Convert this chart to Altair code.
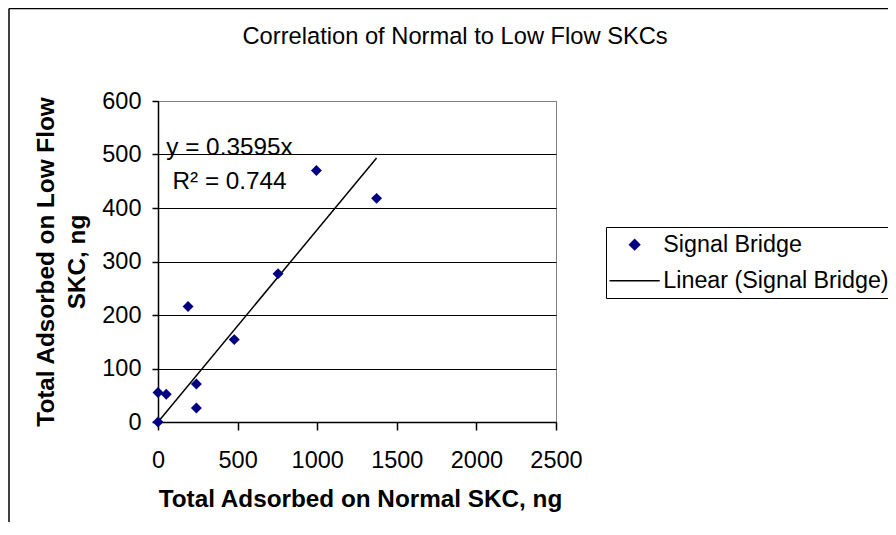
import altair as alt
import pandas as pd

# ---- data ----
x_normal = [0, 0, 52, 189, 241, 241, 479, 754, 995, 1373]
y_low = [0, 55, 52, 216, 71, 26, 154, 277, 470, 418]
series_names = ["Signal Bridge", "Linear (Signal Bridge)"]
slope = 0.3595
r_squared = 0.744
x_ticks = [0, 500, 1000, 1500, 2000, 2500]
y_ticks = [0, 100, 200, 300, 400, 500, 600]
eq_labels = [f"y = {slope}x", f"R² = {r_squared}"]
eq_x = [52, 91]
eq_y = [500, 436]

FONT = "Liberation Sans"

# legend glyph for the trend line: a thin horizontal bar (custom symbol path)
LINE_GLYPH = "M-4.1,-0.12L4.1,-0.12L4.1,0.12L-4.1,0.12Z"

pts = pd.DataFrame({"x": x_normal, "y": y_low, "series": series_names[0]})
xmax = max(x_normal)
trend = pd.DataFrame({"x": [0, xmax], "y": [0, slope * xmax]})
eq = pd.DataFrame({"x": eq_x, "y": eq_y, "label": eq_labels})

xscale = alt.Scale(domain=[0, 2500], nice=False, zero=True)
yscale = alt.Scale(domain=[0, 600], nice=False, zero=True)

x_axis = alt.Axis(
    values=x_ticks, format="d", grid=False, tickSize=8, labelPadding=18, titlePadding=16,
    title="Total Adsorbed on Normal SKC, ng", titleX=202,
)
y_axis = alt.Axis(
    values=y_ticks, format="d", grid=True, tickSize=6, labelPadding=11, titlePadding=12,
    title=["Total Adsorbed on Low Flow", "SKC, ng"], titleLineHeight=31,
    gridColor={"condition": {"test": "datum.value === 600", "value": "#808080"}, "value": "#000000"},
)

# outer chart-area border (left and top edges are the only ones inside the picture)
one = pd.DataFrame({"a": [0]})
frame_left = alt.Chart(one).mark_rule(color="black", strokeWidth=1.5).encode(
    x=alt.value(-149), y=alt.value(-92.5), y2=alt.value(430)
)
frame_top = alt.Chart(one).mark_rule(color="black", strokeWidth=1.5).encode(
    x=alt.value(-149), x2=alt.value(745), y=alt.value(-92.5)
)

line = alt.Chart(trend).mark_line(color="black", strokeWidth=1.5).encode(
    x=alt.X("x:Q", scale=xscale, axis=x_axis),
    y=alt.Y("y:Q", scale=yscale, axis=y_axis),
)

legend = alt.Legend(
    title=None, orient="none", legendX=448, legendY=126,
    strokeColor="black", fillColor="white", padding=6, rowPadding=12,
    labelFont=FONT, labelFontSize=23.3, labelColor="black", labelLimit=500,
    labelExpr="datum.label + '        '",
    symbolSize=150, symbolOffset=11, labelOffset=17, symbolOpacity=1,
    symbolStrokeWidth=0,
)

points = alt.Chart(pts).mark_point(filled=True, size=120, opacity=1).encode(
    x=alt.X("x:Q", scale=xscale),
    y=alt.Y("y:Q", scale=yscale),
    color=alt.Color("series:N", scale=alt.Scale(domain=series_names, range=["#000080", "#000000"]), legend=legend),
    shape=alt.Shape("series:N", scale=alt.Scale(domain=series_names, range=["diamond", LINE_GLYPH]), legend=legend),
)

text = alt.Chart(eq).mark_text(
    align="left", baseline="alphabetic", font=FONT, fontSize=24.3, color="black"
).encode(
    x=alt.X("x:Q", scale=xscale),
    y=alt.Y("y:Q", scale=yscale),
    text="label:N",
)

chart = alt.layer(frame_left, frame_top, line, points, text).properties(
    width=398, height=321,
    autosize=alt.AutoSizeParams(type="none"),
    padding={"left": 150, "top": 93, "right": 332, "bottom": 100},
    title=alt.TitleParams(
        "Correlation of Normal to Low Flow SKCs", font=FONT, fontSize=23.7,
        fontWeight="normal", color="black", anchor="start", frame="group",
        dx=84.5, baseline="alphabetic", offset=-60,
    ),
).configure(
    font=FONT,
    background="white",
).configure_view(
    stroke="#808080", strokeWidth=1,
).configure_axis(
    domainColor="black", tickColor="black", labelColor="black", titleColor="black",
    labelFont=FONT, labelFontSize=23.5, titleFont=FONT, titleFontSize=24.3,
    titleFontWeight="bold", gridWidth=1, domainWidth=1.5, tickWidth=1.5,
    labelFlush=False, labelOverlap=False,
)

chart.save("out.html", embed_options={"renderer": "svg", "actions": False})
